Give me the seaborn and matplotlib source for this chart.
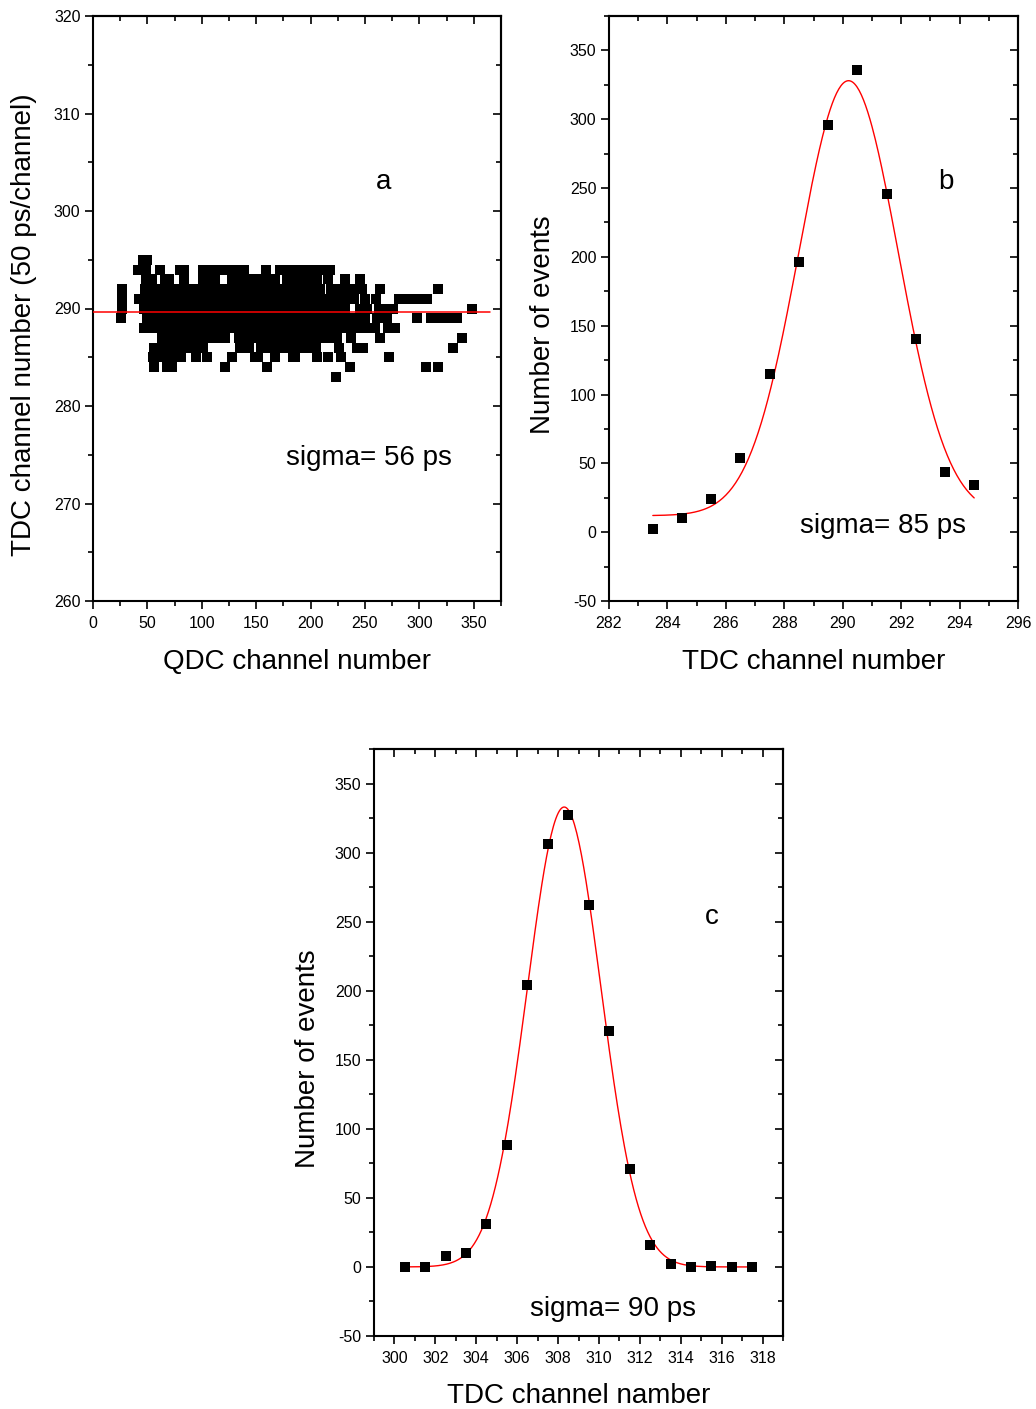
import numpy as np
import pandas as pd
import matplotlib
matplotlib.use("Agg")
import matplotlib.pyplot as plt
import seaborn as sns
from matplotlib.ticker import MultipleLocator, NullFormatter

# ---------------- Panel a: QDC vs TDC scatter (runs of dense events per TDC row) ----------------
tdc_rows = [295, 294, 293, 292, 291, 290, 289, 288, 287, 286, 285, 284, 283]
runs_295 = [(46, 50)]
runs_294 = [(41, 49), (62, 62), (80, 84), (101, 139), (159, 159), (172, 218)]
runs_293 = [(49, 54), (66, 70), (84, 84), (101, 112), (128, 167), (178, 206), (216, 216), (232, 232), (245, 245)]
runs_292 = [(27, 27), (48, 209), (219, 247), (264, 264), (317, 317)]
runs_291 = [(27, 27), (42, 240), (250, 250), (260, 260), (281, 307)]
runs_290 = [(27, 27), (47, 232), (245, 252), (263, 267), (276, 276), (348, 348)]
runs_289 = [(26, 26), (50, 235), (244, 250), (261, 261), (270, 270), (298, 298), (311, 311), (318, 318), (326, 326), (335, 335)]
runs_288 = [(47, 259), (271, 278)]
runs_287 = [(63, 121), (134, 224), (237, 237), (264, 264), (339, 339)]
runs_286 = [(56, 101), (135, 143), (154, 205), (226, 226), (243, 248), (331, 331)]
runs_285 = [(55, 81), (95, 95), (105, 105), (128, 128), (149, 152), (167, 167), (184, 186), (206, 206), (216, 216), (228, 228), (272, 272)]
runs_284 = [(56, 56), (68, 73), (121, 121), (160, 160), (236, 236), (306, 306), (317, 317)]
runs_283 = [(223, 223)]
row_runs = [runs_295, runs_294, runs_293, runs_292, runs_291, runs_290, runs_289,
            runs_288, runs_287, runs_286, runs_285, runs_284, runs_283]
mean_tdc_line = 289.6
line_qdc_range = (0, 365)

# ---------------- Panel b ----------------
b_x = [283.5, 284.5, 285.5, 286.5, 287.5, 288.5, 289.5, 290.5, 291.5, 292.5, 293.5, 294.5]
b_y = [2, 10, 24, 54, 115, 196, 296, 336, 246, 140, 44, 34]
b_fit = dict(y0=12.0, A=316.0, xc=290.2, w=1.70)

# ---------------- Panel c ----------------
c_x = [300.5, 301.5, 302.5, 303.5, 304.5, 305.5, 306.5, 307.5, 308.5, 309.5,
       310.5, 311.5, 312.5, 313.5, 314.5, 315.5, 316.5, 317.5]
c_y = [0, 0, 8, 10, 31, 88, 204, 306, 327, 262, 171, 71, 16, 2, 0, 1, 0, 0]
c_fit = dict(y0=0.0, A=333.0, xc=308.3, w=1.80)

sns.set_style("ticks")
plt.rcParams['font.family'] = ['Liberation Sans', 'DejaVu Sans']
plt.rcParams['axes.linewidth'] = 1.5
plt.rcParams['axes.unicode_minus'] = False
for k in ['text.color', 'axes.labelcolor', 'xtick.color', 'ytick.color',
          'xtick.labelcolor', 'ytick.labelcolor', 'axes.edgecolor']:
    plt.rcParams[k] = 'black'

fig = plt.figure(figsize=(10.36, 14.09), dpi=100)
ax_a = fig.add_axes([93/1036, 1-601/1409, 408/1036, 585/1409])
ax_b = fig.add_axes([609/1036, 1-601/1409, 409/1036, 585/1409])
ax_c = fig.add_axes([374/1036, 1-1336/1409, 409/1036, 587/1409])

LABEL_FS = 20
TICK_FS = 11.5
MS = 42
YLAB_Y = 0.5 - 16/585


def style_axes(ax, xmaj, xmin, ymaj, ymin):
    ax.xaxis.set_major_locator(MultipleLocator(xmaj))
    ax.xaxis.set_minor_locator(MultipleLocator(xmin))
    ax.yaxis.set_major_locator(MultipleLocator(ymaj))
    ax.yaxis.set_minor_locator(MultipleLocator(ymin))
    ax.tick_params(which='major', direction='out', length=6, width=1.2,
                   labelsize=TICK_FS, pad=3, color='black', labelcolor='black')
    ax.tick_params(axis='x', which='major', pad=5)
    ax.tick_params(which='minor', direction='out', length=3.5, width=1.2, color='black')
    for s in ax.spines.values():
        s.set_visible(True)
        s.set_color('black')
        s.set_linewidth(1.5)
    top = ax.secondary_xaxis('top')
    top.xaxis.set_major_locator(MultipleLocator(xmaj))
    top.xaxis.set_minor_locator(MultipleLocator(xmin))
    top.xaxis.set_major_formatter(NullFormatter())
    top.tick_params(which='major', direction='in', length=6, width=1.2)
    top.tick_params(which='minor', direction='in', length=3.5, width=1.2)
    top.spines['top'].set_linewidth(1.5)
    right = ax.secondary_yaxis('right')
    right.yaxis.set_major_locator(MultipleLocator(ymaj))
    right.yaxis.set_minor_locator(MultipleLocator(ymin))
    right.yaxis.set_major_formatter(NullFormatter())
    right.tick_params(which='major', direction='in', length=6, width=1.2)
    right.tick_params(which='minor', direction='in', length=3.5, width=1.2)
    right.spines['right'].set_linewidth(1.5)


def gauss(x, p):
    return p['y0'] + p['A'] * np.exp(-(x - p['xc'])**2 / (2 * p['w']**2))

# ---- Panel a ----
pts_q, pts_t = [], []
for t, runs in zip(tdc_rows, row_runs):
    for (s, e) in runs:
        qs = list(np.arange(s, e, 2.0)) + [e]
        pts_q.extend(qs)
        pts_t.extend([t] * len(qs))
df_a = pd.DataFrame({'qdc': pts_q, 'tdc': pts_t})
sns.scatterplot(data=df_a, x='qdc', y='tdc', ax=ax_a, marker='s', s=MS,
                color='black', linewidth=0, zorder=2)
ax_a.plot(line_qdc_range, [mean_tdc_line, mean_tdc_line], color='red', lw=1.1, zorder=3)
ax_a.set_xlim(0, 375)
ax_a.set_ylim(260, 320)
style_axes(ax_a, 50, 25, 10, 5)
ax_a.set_xlabel('QDC channel number', fontsize=LABEL_FS, labelpad=13)
ax_a.set_ylabel('TDC channel number (50 ps/channel)', fontsize=LABEL_FS, labelpad=12)
ax_a.yaxis.label.set_y(YLAB_Y)
ax_a.text(0.711, 0.716, 'a', transform=ax_a.transAxes, fontsize=LABEL_FS, ha='center', va='center')
ax_a.text(0.676, 0.245, 'sigma= 56 ps', transform=ax_a.transAxes, fontsize=LABEL_FS, ha='center', va='center')

# ---- Panel b ----
xb = np.linspace(min(b_x), max(b_x), 300)
sns.lineplot(x=xb, y=gauss(xb, b_fit), ax=ax_b, color='red', lw=1.0, zorder=2)
sns.scatterplot(x=b_x, y=b_y, ax=ax_b, marker='s', s=MS, color='black', linewidth=0, zorder=3)
ax_b.set_xlim(282, 296)
ax_b.set_ylim(-50, 375)
style_axes(ax_b, 2, 1, 50, 25)
ax_b.set_xlabel('TDC channel number', fontsize=LABEL_FS, labelpad=13)
ax_b.set_ylabel('Number of events', fontsize=LABEL_FS, labelpad=10)
ax_b.yaxis.label.set_y(YLAB_Y)
ax_b.text(0.824, 0.716, 'b', transform=ax_b.transAxes, fontsize=LABEL_FS, ha='center', va='center')
ax_b.text(0.670, 0.129, 'sigma= 85 ps', transform=ax_b.transAxes, fontsize=LABEL_FS, ha='center', va='center')

# ---- Panel c ----
xc = np.linspace(min(c_x), max(c_x), 300)
sns.lineplot(x=xc, y=gauss(xc, c_fit), ax=ax_c, color='red', lw=1.0, zorder=2)
sns.scatterplot(x=c_x, y=c_y, ax=ax_c, marker='s', s=MS, color='black', linewidth=0, zorder=3)
ax_c.set_xlim(299, 319)
ax_c.set_ylim(-50, 375)
style_axes(ax_c, 2, 1, 50, 25)
ax_c.set_xlabel('TDC channel namber', fontsize=LABEL_FS, labelpad=12)
ax_c.set_ylabel('Number of events', fontsize=LABEL_FS, labelpad=10)
ax_c.yaxis.label.set_y(0.5 - 16/587)
ax_c.text(0.826, 0.714, 'c', transform=ax_c.transAxes, fontsize=LABEL_FS, ha='center', va='center')
ax_c.text(0.584, 0.046, 'sigma= 90 ps', transform=ax_c.transAxes, fontsize=LABEL_FS, ha='center', va='center')

fig.savefig('out.png', dpi=100)
